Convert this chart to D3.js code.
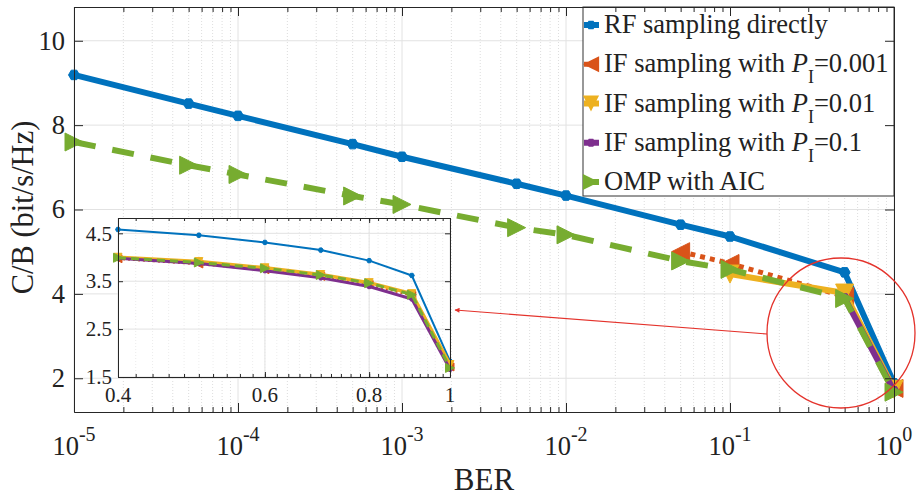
<!DOCTYPE html>
<html>
<head>
<meta charset="utf-8">
<script src="https://cdn.jsdelivr.net/npm/d3@7"></script>
<style>
  body { margin: 0; background: #fff; }
  text { font-family: "Liberation Serif", "Times New Roman", serif; fill: #222; }
</style>
</head>
<body>
<div class="chart"></div>
<script>
// main plot data
const BER = [1e-5, 5e-5, 1e-4, 5e-4, 1e-3, 5e-3, 1e-2, 5e-2, 1e-1, 5e-1, 1];
const rfDirect = [9.19, 8.51, 8.22, 7.55, 7.25, 6.61, 6.33, 5.64, 5.36, 4.51, 1.88];
const ompAIC = [7.6, 7.05, 6.83, 6.32, 6.12, 5.57, 5.4, 4.78, 4.58, 3.89, 1.67];
const berP001 = [5e-2, 1e-1, 5e-1, 1];
const ifP001 = [5.0, 4.72, 3.94, 1.76];
const berP01 = [1e-1, 5e-1, 1];
const ifP01 = [4.47, 4.02, 1.74];
const berP1 = [5e-1, 1];
const ifP1 = [3.9, 1.7];

// inset data
const insetBER = [0.4, 0.5, 0.6, 0.7, 0.8, 0.9, 1];
const insetRF = [4.58, 4.46, 4.31, 4.15, 3.93, 3.62, 1.83];
const insetP001 = [3.97, 3.86, 3.74, 3.60, 3.43, 3.20, 1.71];
const insetP01 = [4.00, 3.91, 3.78, 3.64, 3.47, 3.24, 1.76];
const insetP1 = [3.98, 3.87, 3.72, 3.57, 3.39, 3.13, 1.66];
const insetOMP = [3.99, 3.89, 3.77, 3.63, 3.46, 3.22, 1.69];

// ticks
const xMajor = [1e-5, 1e-4, 1e-3, 1e-2, 1e-1, 1];
const xExp = ["-5", "-4", "-3", "-2", "-1", "0"];
const yMajor = [2, 4, 6, 8, 10];
const insetXTicks = [0.4, 0.6, 0.8, 1];
const insetXLabels = ["0.4", "0.6", "0.8", "1"];
const insetYTicks = [1.5, 2.5, 3.5, 4.5];

const legendNames = [
  ["RF sampling directly"],
  ["IF sampling with ", "P", "I", "=0.001"],
  ["IF sampling with ", "P", "I", "=0.01"],
  ["IF sampling with ", "P", "I", "=0.1"],
  ["OMP with AIC"]
];

const colors = ["#0072BD", "#D95319", "#EDB120", "#7E2F8E", "#77AC30"];

const W = 920, H = 496;
const svg = d3.select(".chart").append("svg")
  .attr("width", W).attr("height", H);
svg.append("rect").attr("width", W).attr("height", H).attr("fill", "#fff");

const x = d3.scaleLog().domain([1e-5, 1]).range([74, 894]);
const y = d3.scaleLinear().domain([1.2, 10.8]).range([412, 7]);

const xi = d3.scaleLog().domain([0.4, 1]).range([118, 450]);
const yi = d3.scaleLinear().domain([1.5, 4.82]).range([377, 218]);

// minor tick values
const xMinor = [];
for (let e = -5; e < 0; e++) for (let m = 2; m <= 9; m++) xMinor.push(m * Math.pow(10, e));
const insetMinor = d3.range(0.42, 0.99, 0.02);

function markerPath(type, s) {
  const h = s / 2;
  if (type === "left") return `M${-h},0L${h},${-h}L${h},${h}Z`;
  if (type === "right") return `M${h},0L${-h},${-h}L${-h},${h}Z`;
  if (type === "down") return `M${-h},${-h}L${h},${-h}L0,${h}Z`;
  // hexagon
  const pts = d3.range(6).map(i => {
    const a = Math.PI / 3 * i;
    return [h * Math.cos(a), h * Math.sin(a)];
  });
  return "M" + pts.join("L") + "Z";
}

const mainSeries = [
  {xs: BER, ys: rfDirect, c: colors[0], w: 6, dash: null, mk: "hex", ms: 11},
  {xs: berP001, ys: ifP001, c: colors[1], w: 5, dash: "5,5", mk: "left", ms: 18},
  {xs: berP01, ys: ifP01, c: colors[2], w: 6, dash: null, mk: "down", ms: 18},
  {xs: berP1, ys: ifP1, c: colors[3], w: 6, dash: null, mk: "hex", ms: 10},
  {xs: BER, ys: ompAIC, c: colors[4], w: 6, dash: "22,17", mk: "right", ms: 18}
];

const insetSeries = [
  {ys: insetRF, c: colors[0], w: 2, dash: null, mk: "hex", ms: 5},
  {ys: insetP001, c: colors[1], w: 2.5, dash: "2,3", mk: "left", ms: 8},
  {ys: insetP01, c: colors[2], w: 3.5, dash: null, mk: "down", ms: 8},
  {ys: insetP1, c: colors[3], w: 3, dash: null, mk: "hex", ms: 5},
  {ys: insetOMP, c: colors[4], w: 3, dash: "8,5", mk: "right", ms: 9}
];

// ---- main grid
const grid = svg.append("g");
grid.selectAll(".xminor").data(xMinor).enter().append("line")
  .attr("x1", d => x(d)).attr("x2", d => x(d))
  .attr("y1", y.range()[0]).attr("y2", y.range()[1])
  .attr("stroke", "#d4d4d4").attr("stroke-width", 0.8).attr("stroke-dasharray", "1,2");
grid.selectAll(".xmajor").data(xMajor).enter().append("line")
  .attr("x1", d => x(d)).attr("x2", d => x(d))
  .attr("y1", y.range()[0]).attr("y2", y.range()[1])
  .attr("stroke", "#e2e2e2").attr("stroke-width", 1);
grid.selectAll(".ymajor").data(yMajor).enter().append("line")
  .attr("x1", x.range()[0]).attr("x2", x.range()[1])
  .attr("y1", d => y(d)).attr("y2", d => y(d))
  .attr("stroke", "#e2e2e2").attr("stroke-width", 1);

// ---- main series
function drawSeries(g, s, xs, xsc, ysc) {
  const pts = xs.map((v, i) => [xsc(v), ysc(s.ys[i])]);
  g.append("path")
    .attr("d", d3.line()(pts))
    .attr("fill", "none")
    .attr("stroke", s.c)
    .attr("stroke-width", s.w)
    .attr("stroke-linejoin", "round")
    .attr("stroke-dasharray", s.dash);
  g.selectAll(null).data(pts).enter().append("path")
    .attr("d", markerPath(s.mk, s.ms))
    .attr("transform", d => `translate(${d[0]},${d[1]})`)
    .attr("fill", s.c)
    .attr("stroke", s.c)
    .attr("stroke-width", 1);
}

const plot = svg.append("g");
mainSeries.forEach(s => drawSeries(plot, s, s.xs, x, y));

// ---- legend (drawn under the axis ticks, as in the figure)
const legX = 583, legTop = 7, legRight = x.range()[1], legBottom = 196;
const leg = svg.append("g");
leg.append("rect")
  .attr("x", legX).attr("y", legTop)
  .attr("width", legRight - legX).attr("height", legBottom - legTop)
  .attr("fill", "#fff").attr("stroke", "#333").attr("stroke-width", 1);
const rowY = d3.scaleLinear().domain([0, 4]).range([25, 182]);
mainSeries.forEach((s, i) => {
  const cy = rowY(i);
  leg.append("line")
    .attr("x1", legX + 1).attr("x2", legX + 16)
    .attr("y1", cy).attr("y2", cy)
    .attr("stroke", s.c).attr("stroke-width", s.w)
    .attr("stroke-dasharray", i === 1 ? "4,3" : null);
  leg.append("path")
    .attr("d", markerPath(s.mk, s.ms * 0.9))
    .attr("transform", `translate(${legX + 8},${cy})`)
    .attr("fill", s.c);
  const t = leg.append("text")
    .attr("x", legX + 21).attr("y", cy + 8)
    .attr("font-size", 26.5);
  const parts = legendNames[i];
  if (parts.length === 1) {
    t.text(parts[0]);
  } else {
    t.append("tspan").text(parts[0]);
    t.append("tspan").attr("font-style", "italic").text(parts[1]);
    t.append("tspan").attr("dy", 11).attr("font-size", 18).text(parts[2]);
    t.append("tspan").attr("dy", -11).text(parts[3]);
  }
});

// ---- main axes (inward ticks, box)
function axisStyle(g) {
  g.selectAll("path.domain").attr("stroke", "#262626");
  g.selectAll(".tick line").attr("stroke", "#262626");
}
const xb = svg.append("g").attr("transform", `translate(0,${y.range()[0]})`);
xb.call(d3.axisBottom(x).tickValues(xMinor).tickSize(-5).tickSizeOuter(0).tickFormat(""));
xb.append("g").call(d3.axisBottom(x).tickValues(xMajor).tickSize(-9).tickSizeOuter(0).tickFormat(""));
axisStyle(xb);
const xt = svg.append("g").attr("transform", `translate(0,${y.range()[1]})`);
xt.call(d3.axisTop(x).tickValues(xMinor).tickSize(-5).tickSizeOuter(0).tickFormat(""));
xt.append("g").call(d3.axisTop(x).tickValues(xMajor).tickSize(-9).tickSizeOuter(0).tickFormat(""));
axisStyle(xt);
const yl = svg.append("g").attr("transform", `translate(${x.range()[0]},0)`)
  .call(d3.axisLeft(y).tickValues(yMajor).tickSize(-9).tickSizeOuter(0).tickPadding(9));
axisStyle(yl);
yl.selectAll(".tick text")
  .attr("font-family", "Liberation Serif").attr("font-size", 26.5).attr("fill", "#222");
const yr = svg.append("g").attr("transform", `translate(${x.range()[1]},0)`)
  .call(d3.axisRight(y).tickValues(yMajor).tickSize(-9).tickSizeOuter(0).tickFormat(""));
axisStyle(yr);

// x tick labels 10^n
svg.selectAll(".xlab").data(xMajor).enter().append("text")
  .attr("x", d => x(d)).attr("y", 455)
  .attr("text-anchor", "middle").attr("font-size", 26.5)
  .each(function(d, i) {
    const t = d3.select(this);
    t.append("tspan").text("10");
    t.append("tspan").attr("dy", -14).attr("font-size", 20).text(xExp[i]);
  });

svg.append("text")
  .attr("x", (x.range()[0] + x.range()[1]) / 2).attr("y", 490)
  .attr("text-anchor", "middle").attr("font-size", 31)
  .text("BER");

svg.append("text")
  .attr("transform", `translate(33,${(y.range()[0] + y.range()[1]) / 2 - 2}) rotate(-90)`)
  .attr("text-anchor", "middle").attr("font-size", 30.5)
  .text("C/B (bit/s/Hz)");

// ---- inset
const inset = svg.append("g");
inset.append("rect")
  .attr("x", xi.range()[0]).attr("y", yi.range()[1])
  .attr("width", xi.range()[1] - xi.range()[0])
  .attr("height", yi.range()[0] - yi.range()[1])
  .attr("fill", "#fff");
inset.selectAll(".iminor").data(insetMinor).enter().append("line")
  .attr("x1", d => xi(d)).attr("x2", d => xi(d))
  .attr("y1", yi.range()[0]).attr("y2", yi.range()[1])
  .attr("stroke", "#e4e4e4").attr("stroke-width", 0.7).attr("stroke-dasharray", "1,2");
inset.selectAll(".ixg").data(insetXTicks).enter().append("line")
  .attr("x1", d => xi(d)).attr("x2", d => xi(d))
  .attr("y1", yi.range()[0]).attr("y2", yi.range()[1])
  .attr("stroke", "#e2e2e2");
inset.selectAll(".iyg").data(insetYTicks).enter().append("line")
  .attr("x1", xi.range()[0]).attr("x2", xi.range()[1])
  .attr("y1", d => yi(d)).attr("y2", d => yi(d))
  .attr("stroke", "#e2e2e2");

insetSeries.forEach(s => drawSeries(inset, s, insetBER, xi, yi));

const ib = inset.append("g").attr("transform", `translate(0,${yi.range()[0]})`);
ib.call(d3.axisBottom(xi).tickValues(insetMinor).tickSize(-3).tickSizeOuter(0).tickFormat(""));
ib.append("g").call(d3.axisBottom(xi).tickValues(insetXTicks).tickSize(-5).tickSizeOuter(0).tickFormat(""));
axisStyle(ib);
const it = inset.append("g").attr("transform", `translate(0,${yi.range()[1]})`);
it.call(d3.axisTop(xi).tickValues(insetMinor).tickSize(-3).tickSizeOuter(0).tickFormat(""));
it.append("g").call(d3.axisTop(xi).tickValues(insetXTicks).tickSize(-5).tickSizeOuter(0).tickFormat(""));
axisStyle(it);
const il = inset.append("g").attr("transform", `translate(${xi.range()[0]},0)`)
  .call(d3.axisLeft(yi).tickValues(insetYTicks).tickSize(-5).tickSizeOuter(0).tickPadding(6).tickFormat(d3.format(".1f")));
axisStyle(il);
il.selectAll(".tick text")
  .attr("font-family", "Liberation Serif").attr("font-size", 21).attr("fill", "#222");
const ir = inset.append("g").attr("transform", `translate(${xi.range()[1]},0)`)
  .call(d3.axisRight(yi).tickValues(insetYTicks).tickSize(-5).tickSizeOuter(0).tickFormat(""));
axisStyle(ir);
inset.selectAll(".ixl").data(insetXTicks).enter().append("text")
  .attr("x", d => xi(d)).attr("y", 402)
  .attr("text-anchor", "middle").attr("font-size", 21)
  .text((d, i) => insetXLabels[i]);

// ---- annotation: circle and arrow to inset
const circ = {cx: 841, cy: 333, r: 74};
svg.append("defs").append("marker")
  .attr("id", "arr").attr("viewBox", "0 0 10 10")
  .attr("refX", 9).attr("refY", 5)
  .attr("markerWidth", 7).attr("markerHeight", 5)
  .attr("markerUnits", "userSpaceOnUse")
  .attr("orient", "auto")
  .append("path").attr("d", "M0,0L10,5L0,10Z").attr("fill", "#e4322b");
svg.append("ellipse")
  .attr("cx", circ.cx).attr("cy", circ.cy).attr("rx", circ.r).attr("ry", circ.r + 1)
  .attr("fill", "none").attr("stroke", "#e4322b").attr("stroke-width", 1.3);
svg.append("line")
  .attr("x1", circ.cx - circ.r).attr("y1", circ.cy + 1)
  .attr("x2", xi.range()[1] + 5).attr("y2", 310)
  .attr("stroke", "#e4322b").attr("stroke-width", 1.2)
  .attr("marker-end", "url(#arr)");
</script>
</body>
</html>
